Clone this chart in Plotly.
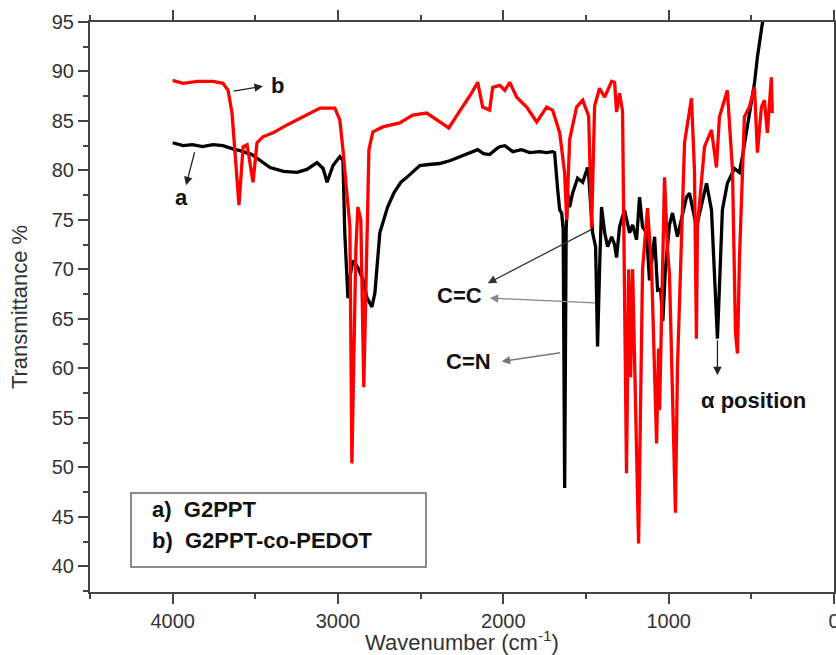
import plotly.graph_objects as go

# ---- data (wavenumber cm-1, transmittance %) ----
wn_a = [4000, 3937, 3880, 3820, 3756, 3695, 3641, 3593, 3520, 3470, 3411, 3330, 3248, 3188,
        3127, 3090, 3066, 3030, 2989, 2970, 2959, 2940, 2925, 2910, 2880, 2850, 2826, 2795,
        2777, 2747, 2729, 2700, 2660, 2620, 2584, 2505, 2450, 2385, 2320, 2264, 2200, 2155, 2120,
        2083, 2040, 2022, 1991, 1943, 1890, 1841, 1780, 1740, 1702, 1690, 1671, 1659, 1647,
        1638, 1629, 1620, 1611, 1599, 1581, 1551, 1520, 1490, 1484, 1460, 1442, 1430, 1418,
        1406, 1387, 1369, 1345, 1327, 1315, 1297, 1267, 1236, 1218, 1194, 1176, 1158, 1134,
        1116, 1085, 1067, 1049, 1035, 1020, 995, 977, 947, 892, 874, 832, 771, 741, 705, 675,
        645, 602, 572, 554, 530, 481, 463, 433, 410]
t_a = [82.8, 82.5, 82.6, 82.4, 82.6, 82.5, 82.2, 82.0, 81.6, 81.0, 80.3, 79.9, 79.8, 80.1,
       80.8, 80.2, 78.8, 80.5, 81.4, 81.0, 73.7, 67.1, 69.5, 70.9, 70.2, 69.0, 67.2, 66.2,
       67.6, 73.7, 74.7, 76.3, 77.8, 78.8, 79.3, 80.5, 80.6, 80.7, 81.0, 81.4, 81.8, 82.1, 81.7,
       81.6, 82.2, 82.4, 82.5, 81.9, 82.1, 81.8, 81.9, 81.8, 81.9, 81.8, 78.0, 76.0, 75.7,
       74.0, 47.9, 74.0, 77.7, 76.3, 77.7, 79.2, 78.8, 80.3, 79.5, 73.7, 72.3, 62.2, 70.0,
       76.3, 73.7, 72.3, 73.3, 72.5, 71.2, 74.3, 76.0, 73.7, 74.5, 73.0, 77.3, 74.3, 73.7,
       68.9, 73.3, 67.9, 68.0, 64.8, 70.0, 74.5, 75.7, 73.3, 77.3, 77.7, 74.3, 78.7, 76.0,
       63.0, 76.0, 78.7, 80.2, 79.8, 81.4, 83.8, 88.8, 91.5, 94.9, 97.5]

wn_b = [4000, 3937, 3850, 3756, 3695, 3665, 3641, 3623, 3599, 3574, 3550, 3514, 3490, 3454,
        3393, 3308, 3188, 3109, 3019, 2989, 2970, 2946, 2928, 2916, 2892, 2880, 2862, 2844,
        2826, 2813, 2789, 2729, 2627, 2548, 2463, 2385, 2330, 2264, 2200, 2155, 2125, 2083,
        2064, 2022, 1991, 1961, 1919, 1859, 1798, 1738, 1702, 1659, 1629, 1617, 1599, 1557,
        1520, 1484, 1466, 1448, 1418, 1387, 1345, 1327, 1315, 1297, 1279, 1255, 1242, 1230,
        1218, 1182, 1158, 1128, 1103, 1073, 1061, 1055, 1025, 1007, 995, 959, 947, 904, 862,
        844, 832, 826, 783, 741, 711, 693, 645, 614, 602, 596, 584, 572, 542, 512, 481, 463,
        439, 421, 403, 379, 373]
t_b = [89.1, 88.8, 89.0, 89.0, 88.8, 88.1, 85.8, 82.1, 76.5, 82.4, 82.6, 78.8, 82.8, 83.4,
       83.8, 84.6, 85.6, 86.3, 86.3, 85.1, 82.1, 77.7, 74.3, 50.4, 72.0, 76.3, 75.0, 58.1,
       73.7, 82.1, 83.9, 84.4, 84.8, 85.6, 85.8, 84.9, 84.3, 86.0, 87.6, 88.9, 86.4, 86.1,
       88.4, 88.6, 88.1, 88.9, 87.4, 86.4, 84.9, 86.4, 86.1, 83.8, 79.7, 75.0, 83.1, 86.4,
       87.1, 85.5, 74.2, 86.5, 88.3, 87.4, 89.0, 88.9, 85.9, 87.8, 86.0, 49.4, 70.0, 59.1,
       70.0, 42.3, 70.0, 76.2, 70.0, 52.4, 62.0, 55.8, 79.3, 72.0, 69.5, 45.4, 60.0, 82.8,
       87.3, 80.0, 63.0, 74.3, 82.4, 84.1, 80.3, 85.4, 88.1, 80.0, 70.9, 63.7, 61.5, 70.9,
       85.4, 86.4, 88.4, 81.8, 86.4, 87.1, 83.8, 89.4, 85.8]

legend_lines = ["a)\u00a0\u00a0G2PPT", "b)\u00a0\u00a0G2PPT-co-PEDOT"]

FONT = "Liberation Sans, Arial, sans-serif"
AX = "#444444"

fig = go.Figure()
fig.add_trace(go.Scatter(x=wn_a, y=t_a, mode="lines", name="G2PPT",
                         line=dict(color="black", width=3.3)))
fig.add_trace(go.Scatter(x=wn_b, y=t_b, mode="lines", name="G2PPT-co-PEDOT",
                         line=dict(color="#ff0000", width=3.3)))

axis_common = dict(showline=True, linewidth=2, linecolor=AX, mirror="ticks",
                   ticks="outside", ticklen=10, tickwidth=2, tickcolor=AX,
                   showgrid=False, zeroline=False, automargin=False,
                   ticklabeloverflow="allow",
                   tickfont=dict(family=FONT, size=20, color="#333333"))

fig.update_xaxes(range=[4500, 0], tick0=0, dtick=1000,
                 minor=dict(dtick=500, tick0=0, ticks="outside", ticklen=5, tickwidth=2, tickcolor=AX),
                 title=dict(text="Wavenumber (cm<sup>-1</sup>)", standoff=8,
                            font=dict(family=FONT, size=22, color="#333333")),
                 **axis_common)
fig.update_yaxes(range=[37.4, 95], tick0=0, dtick=5,
                 minor=dict(dtick=2.5, tick0=0, ticks="outside", ticklen=5, tickwidth=2, tickcolor=AX),
                 title=dict(text="Transmittance %", standoff=18,
                            font=dict(family=FONT, size=22, color="#333333")),
                 **axis_common)

bold = dict(family=FONT, size=22, color="#111111")
arrows = [
    # (head x, head y, tail x, tail y, colour)
    (3454, 88.5, 3641, 88.0, "#222222"),
    (3919, 78.5, 3865, 82.0, "#222222"),
    (2094, 68.6, 1460, 74.1, "#333333"),
    (2082, 67.1, 1436, 66.6, "#888888"),
    (2010, 60.7, 1647, 61.6, "#777777"),
    (705, 59.3, 705, 63.0, "#222222"),
]
for hx, hy, tx, ty, col in arrows:
    fig.add_annotation(x=hx, y=hy, ax=tx, ay=ty, xref="x", yref="y", axref="x", ayref="y",
                       text="", showarrow=True, arrowhead=2, arrowsize=1.3, arrowwidth=1.3,
                       arrowcolor=col, standoff=0, startstandoff=0)

labels = [
    ("b", 3363, 88.6),
    ("a", 3949, 77.3),
    ("C=C", 2264, 67.4),
    ("C=N", 2209, 60.7),
    ("\u03b1 position", 487, 56.8),
]
for txt, lx, ly in labels:
    fig.add_annotation(x=lx, y=ly, xref="x", yref="y", text=f"<b>{txt}</b>",
                       showarrow=False, font=bold, xanchor="center", yanchor="middle")

# legend box
fig.add_shape(type="rect", xref="paper", yref="paper", x0=0.0551, x1=0.4516, y0=0.0439, y1=0.1737,
              line=dict(color="#666666", width=1.5), fillcolor="rgba(0,0,0,0)")
for i, line in enumerate(legend_lines):
    fig.add_annotation(x=0.0806, y=[0.1439, 0.0912][i], xref="paper", yref="paper",
                       text=f"<b>{line}</b>", showarrow=False, xanchor="left", yanchor="middle",
                       font=dict(family=FONT, size=22, color="#111111"))

fig.update_layout(width=836, height=655, margin=dict(l=90, r=2, t=22, b=63),
                  paper_bgcolor="white", plot_bgcolor="white", showlegend=False)

fig.write_html("out.html")
